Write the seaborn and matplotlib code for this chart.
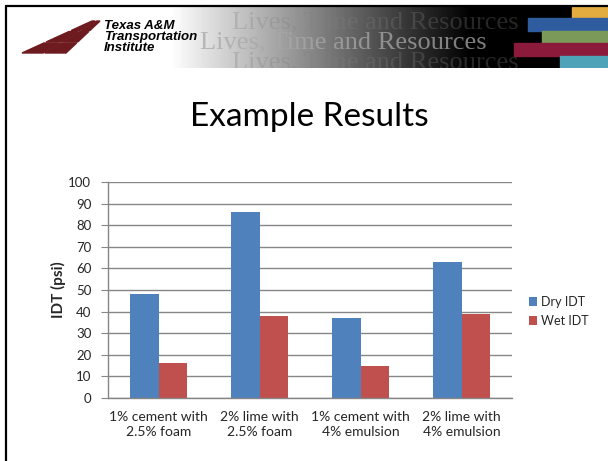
import matplotlib
matplotlib.use("Agg")
import matplotlib.pyplot as plt
import matplotlib.patches as mpatches
from matplotlib.lines import Line2D
import seaborn as sns
import numpy as np
import pandas as pd

# chart data
mixes = ["1% cement with\n2.5% foam", "2% lime with\n2.5% foam",
         "1% cement with\n4% emulsion", "2% lime with\n4% emulsion"]
dry_idt = [48, 86, 37, 63]
wet_idt = [16, 38, 15, 39]
series = ["Dry IDT", "Wet IDT"]
y_ticks = [0, 10, 20, 30, 40, 50, 60, 70, 80, 90, 100]

df = pd.DataFrame({
    "Mix": mixes * 2,
    "IDT": dry_idt + wet_idt,
    "Test": [series[0]] * len(mixes) + [series[1]] * len(mixes),
})

W, H = 608, 461
sns.set_style("white")
plt.rcParams["font.family"] = ["Lato", "DejaVu Sans"]

fig = plt.figure(figsize=(W / 100, H / 100), dpi=100)


def fx(x):
    return x / W


def fy(y):
    return 1 - y / H


# ---- header banner (drawn in pixel coordinates) ----
hx0, hx1, hy0, hy1 = 7, 608, 7, 68
hax = fig.add_axes([fx(hx0), fy(hy1), fx(hx1 - hx0), (hy1 - hy0) / H])
hax.set_xlim(hx0, hx1)
hax.set_ylim(hy1, hy0)
hax.axis("off")

xs = np.arange(hx0, hx1)
grad = np.clip((470 - xs) / (470 - 170), 0, 1)
hax.imshow(grad[np.newaxis, :], cmap="gray", vmin=0, vmax=1, aspect="auto",
           extent=(hx0, hx1, hy1, hy0), zorder=0)

slogan = "Lives, Time and Resources"
for x0, yb, col, al in [(232, 28, "#808080", 0.3), (200, 48, "#a8a8a8", 0.75),
                        (232, 68, "#808080", 0.3)]:
    hax.text(x0, yb, slogan, family="Liberation Serif", fontsize=19,
             color=col, alpha=al, va="baseline", ha="left", clip_on=True, zorder=1)

strips = [(572, 7, 18, "#e3ac3e"), (528, 18, 31, "#2f5c9e"),
          (542, 31, 43, "#7b9a5a"), (514, 43, 56, "#8b1a3b"),
          (560, 56, 68, "#4ea3b8")]
for x0, y0, y1, c in strips:
    hax.add_patch(mpatches.Rectangle((x0, y0), 608 - x0, y1 - y0, color=c, zorder=2))

# logo road
maroon = "#6e1b1f"


def xl(y):
    return 22 + (53 - y) * (92 - 22) / 32


def xr(y):
    return 66 + (53 - y) * (100 - 66) / 32


for ya, yb in [(21, 30.5), (31.5, 42), (43, 53)]:
    ca, cb = (xl(ya) + xr(ya)) / 2, (xl(yb) + xr(yb)) / 2
    hax.add_patch(mpatches.Polygon([(xl(yb), yb), (cb - 0.8, yb), (ca - 0.8, ya), (xl(ya), ya)],
                                   color=maroon, zorder=2))
    hax.add_patch(mpatches.Polygon([(cb + 0.8, yb), (xr(yb), yb), (xr(ya), ya), (ca + 0.8, ya)],
                                   color=maroon, zorder=2))
for txt, yb in [("Texas A&M", 29), ("Transportation", 40), ("Institute", 51)]:
    hax.text(104, yb, txt, family="Liberation Sans", fontweight="bold",
             style="italic", fontsize=9.5, color="black", va="baseline", zorder=3)

# slide border (left and top)
fig.add_artist(Line2D([fx(6), fx(6)], [fy(6), 0], color="black", lw=1.6))
fig.add_artist(Line2D([fx(6), 1], [fy(6), fy(6)], color="black", lw=1.6))

# title
fig.text(fx(309), fy(126), "Example Results", ha="center", va="baseline",
         fontsize=24, color="black")

# ---- chart ----
ax = fig.add_axes([fx(108), fy(398), fx(512 - 108), (398 - 182) / H])
sns.barplot(data=df, x="Mix", y="IDT", hue="Test", palette=["#4f81bd", "#c0504d"],
            width=0.57, saturation=1, ax=ax, linewidth=0)
ax.set_ylim(0, 100)
ax.set_xlim(-0.5, len(mixes) - 0.5)
ax.set_yticks(y_ticks)
ax.yaxis.grid(True, color="#868686", lw=1)
ax.set_axisbelow(True)
for s in ["top", "right"]:
    ax.spines[s].set_visible(False)
for s in ["left", "bottom"]:
    ax.spines[s].set_color("#868686")
    ax.spines[s].set_linewidth(1)
ax.set_xticks(np.arange(len(mixes) + 1) - 0.5, minor=True)
ax.tick_params(axis="x", which="major", length=0, pad=9, labelsize=10)
ax.tick_params(axis="x", which="minor", length=5, color="#868686", direction="out")
ax.tick_params(axis="y", length=5, color="#868686", direction="out", pad=7, labelsize=9.5, left=True)
for lab in ax.get_xticklabels():
    lab.set_linespacing(1.35)
ax.set_xlabel("")
ax.set_ylabel("IDT (psi)", fontweight="bold", fontsize=11, labelpad=2)

sns.move_legend(ax, loc="center left", bbox_to_anchor=(1.013, 0.40), frameon=False,
                title=None, fontsize=9, handlelength=0.7, handleheight=0.7,
                handletextpad=0.3, labelspacing=0.55)

fig.savefig("out.png", dpi=100)
